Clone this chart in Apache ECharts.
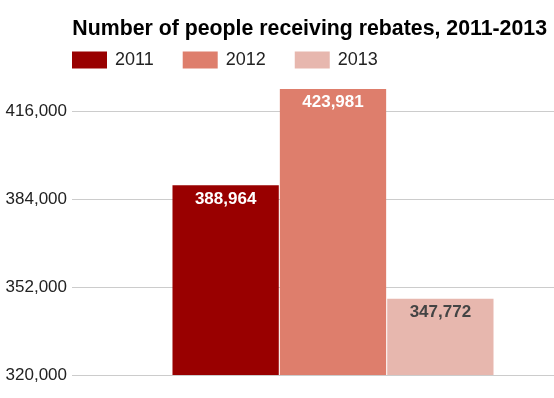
<!DOCTYPE html>
<html>
<head>
<meta charset="utf-8">
<script src="https://cdn.jsdelivr.net/npm/echarts@6/dist/echarts.min.js"></script>
<style>
	html, body { margin: 0; padding: 0; background: #fff; }
	#chart { width: 554px; height: 398px; }
</style>
</head>
<body>
<div id="chart"></div>
<script>
// 数据
var years = [ '2011', '2012', '2013' ];
var peopleCount = [ 388964, 423981, 347772 ];
var barColors = [ '#990000', '#de7e6c', '#e7b7ae' ];
var labelColors = [ '#ffffff', '#ffffff', '#444444' ];
var yMin = 320000;
var yMax = 430000;
var yStep = 32000;

var fontName = 'Arial, "Liberation Sans", sans-serif';

function fmt(v) {
	return v.toLocaleString('en-US');
}

var chart = echarts.init(document.getElementById('chart'));

var series = [];
for (var i = 0; i < years.length; i++) {
	series.push({
		name : years[i],
		type : 'bar',
		data : [ peopleCount[i] ],
		barGap : '1%',
		barCategoryGap : '38.5%',
		itemStyle : {
			color : barColors[i]
		},
		label : {
			show : true,
			position : 'insideTop',
			distance : 5,
			color : labelColors[i],
			fontFamily : fontName,
			fontWeight : 'bold',
			fontSize : 17,
			formatter : function(p) {
				return fmt(p.value);
			}
		},
		animation : false
	});
}

var option = {
	backgroundColor : '#ffffff',
	title : {
		text : 'Number of people receiving rebates, 2011-2013',
		right : 2,
		top : 14,
		textStyle : {
			fontFamily : fontName,
			fontWeight : 'bold',
			fontSize : 21.3,
			color : '#000000'
		}
	},
	legend : {
		left : 72,
		top : 51,
		padding : 0,
		itemWidth : 35,
		itemHeight : 17,
		itemGap : 29,
		icon : 'rect',
		data : years,
		textStyle : {
			fontFamily : fontName,
			fontSize : 18,
			color : '#222222',
			padding : [ 0, 0, 0, 3 ]
		}
	},
	grid : {
		left : 72,
		right : -40,
		top : 72.5,
		bottom : 23,
		outerBoundsMode : 'none'
	},
	xAxis : {
		type : 'category',
		data : [ '' ],
		axisLine : { show : false },
		axisTick : { show : false },
		axisLabel : { show : false }
	},
	yAxis : {
		type : 'value',
		min : yMin,
		max : yMax,
		interval : yStep,
		axisLine : { show : false },
		axisTick : { show : false },
		axisLabel : {
			showMaxLabel : false,
			margin : 5,
			fontFamily : fontName,
			fontSize : 17,
			color : '#222222',
			formatter : function(v) {
				return fmt(v);
			}
		},
		splitLine : {
			showMaxLine : false,
			lineStyle : {
				color : '#cccccc',
				width : 1
			}
		}
	},
	series : series
};

chart.setOption(option);
</script>
</body>
</html>
